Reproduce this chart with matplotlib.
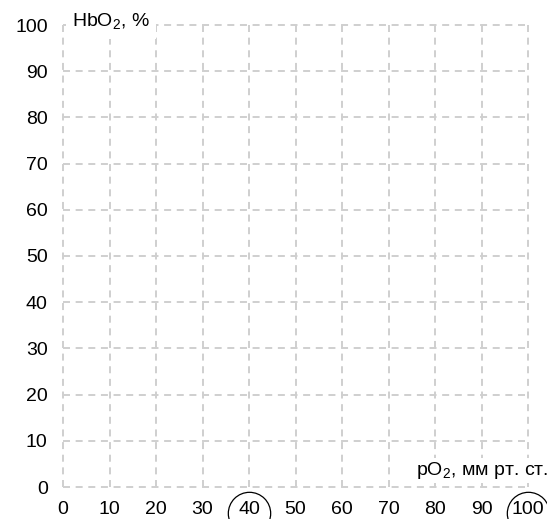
import matplotlib
matplotlib.use("Agg")
import matplotlib.pyplot as plt
from matplotlib import transforms

plt.rcParams["font.family"] = ["Liberation Sans", "DejaVu Sans"]
plt.rcParams["mathtext.fontset"] = "custom"
plt.rcParams["mathtext.rm"] = "Liberation Sans"

# Axis ticks
x_ticks = [0, 10, 20, 30, 40, 50, 60, 70, 80, 90, 100]
y_ticks = [0, 10, 20, 30, 40, 50, 60, 70, 80, 90, 100]
circled_x = [40, 100]

y_label = r"HbO$_{\mathregular{2}}$, %"
x_label = r"pO$_{\mathregular{2}}$, мм рт. ст."

W, H = 547, 519
fig = plt.figure(figsize=(W / 100, H / 100), dpi=100)
ax = fig.add_axes([63 / W, (H - 487) / H, 465 / W, 462 / H])

ax.set_xlim(0, 100)
ax.set_ylim(0, 100)
ax.set_xticks(x_ticks)
ax.set_yticks(y_ticks)
ax.tick_params(length=0, labelsize=14)
ax.tick_params(axis="x", pad=10)
ax.tick_params(axis="y", pad=11)
for s in ax.spines.values():
    s.set_visible(False)

ax.grid(True, color="#cfcfcf", linewidth=1.4, linestyle=(0, (3.6, 2.9)))
for gl in ax.get_xgridlines() + ax.get_ygridlines():
    gl.set_clip_on(False)

# Axis titles sitting on the grid with a white backing
ax.text(0.0195, 0.9957, y_label, transform=ax.transAxes, fontsize=14,
        ha="left", va="baseline",
        bbox=dict(boxstyle="square,pad=0.33", fc="white", ec="none"))
ax.text(0.759, 0.026, x_label, transform=ax.transAxes, fontsize=14,
        ha="left", va="baseline", clip_on=False,
        bbox=dict(boxstyle="square,pad=0.12", fc="white", ec="none"))

# Circles around selected tick values
blend = transforms.blended_transform_factory(ax.transData, ax.transAxes)
ax.plot(circled_x, [-25.5 / 462] * len(circled_x), linestyle="none",
        marker="o", ms=30.5, mfc="none", mec="black", mew=0.9,
        transform=blend, clip_on=False)

fig.savefig("out.png", dpi=100)
